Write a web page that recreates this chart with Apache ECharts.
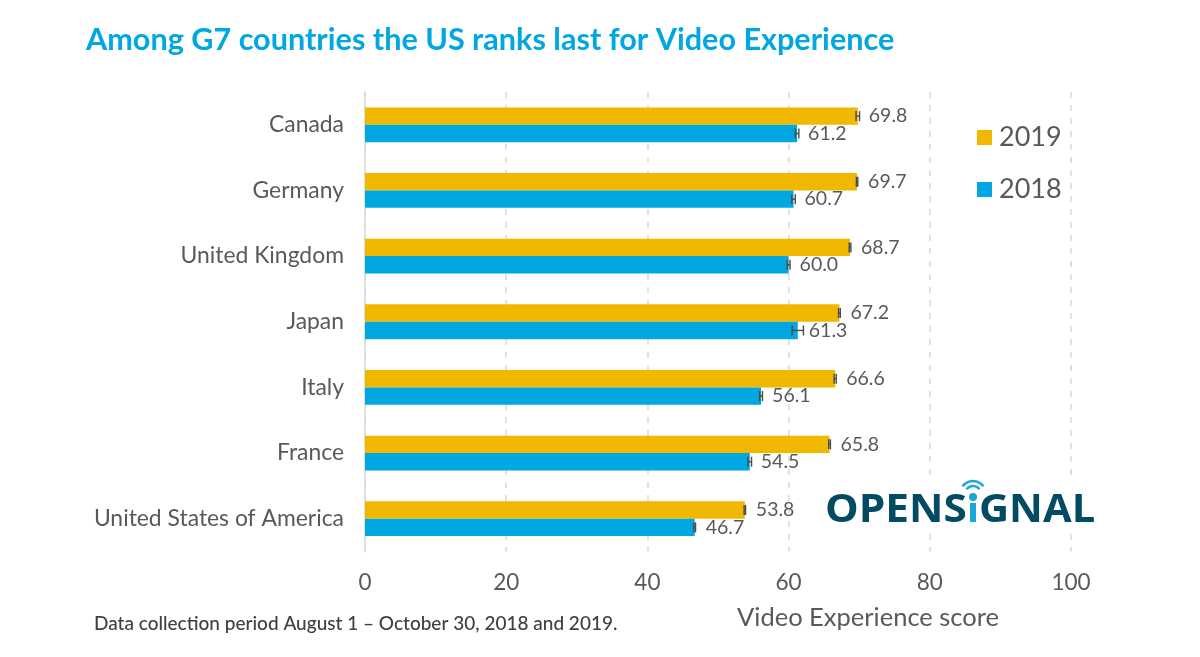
<!DOCTYPE html>
<html><head><meta charset="utf-8">
<style>html,body{margin:0;padding:0;background:#fff}#c{width:1200px;height:657px}</style>
<script src="https://cdn.jsdelivr.net/npm/echarts@6/dist/echarts.min.js"></script>
</head><body><div id="c"></div>
<script>
const categories = ['Canada','Germany','United Kingdom','Japan','Italy','France','United States of America'];
const values2019 = [69.8,69.7,68.7,67.2,66.6,65.8,53.8];
const values2018 = [61.2,60.7,60.0,61.3,56.1,54.5,46.7];
const err2019 = [0.25,0.1,0.12,0.12,0.15,0.12,0.1];
const err2018 = [0.25,0.25,0.2,0.8,0.2,0.25,0.12];
const xTicks = [0,20,40,60,80,100];
const GREY = '#595959', GOLD = '#f0b800', BLUE = '#00a7e1';
const FONT = 'Lato';

const barH = 17.4;
function errorSeries(name, errs, vals, dir){
  return {
    type:'custom', name:name+' error', z:5, silent:true,
    data: vals.map((v,i)=>[v,i,errs[i]]),
    encode:{x:0,y:1},
    renderItem(params, api){
      const v=api.value(0), i=api.value(1), e=api.value(2);
      const a=api.coord([v-e,i]), b=api.coord([v+e,i]);
      const y=a[1]+dir*barH/2, cap=5;
      const st={stroke:'#4a4a4a',lineWidth:1.4,fill:null};
      return {type:'group',children:[
        {type:'line',shape:{x1:a[0],y1:y,x2:b[0],y2:y},style:st},
        {type:'line',shape:{x1:a[0],y1:y-cap,x2:a[0],y2:y+cap},style:st},
        {type:'line',shape:{x1:b[0],y1:y-cap,x2:b[0],y2:y+cap},style:st}
      ]};
    }
  };
}
function barSeries(name, vals, color){
  return {type:'bar',name,data:vals,barWidth:barH,barGap:'0%',
    itemStyle:{color},
    label:{show:true,position:'right',distance:11,color:GREY,fontFamily:FONT,fontSize:19.5,
      formatter:p=>p.value.toFixed(1)}};
}
const chart = echarts.init(document.getElementById('c'),null,{renderer:'canvas'});
chart.setOption({
  animation:false,
  backgroundColor:'#fff',
  textStyle:{fontFamily:FONT},
  title:{text:'Among G7 countries the US ranks last for Video Experience',left:81,top:20,
    textStyle:{fontFamily:FONT,fontWeight:'bold',fontSize:30.6,color:BLUE}},
  grid:{left:365,width:706,top:92,height:459.5,containLabel:false},
  legend:{data:['2019','2018'],orient:'vertical',left:972,top:119,icon:'rect',itemWidth:15,itemHeight:15,itemGap:25,
    textStyle:{fontFamily:FONT,fontSize:27,color:GREY,padding:[0,0,0,2]}},
  xAxis:{type:'value',min:xTicks[0],max:xTicks[xTicks.length-1],interval:20,
    axisLine:{show:false},axisTick:{show:false},
    axisLabel:{color:GREY,fontFamily:FONT,fontSize:22.5,margin:20},
    splitLine:{show:true,lineStyle:{color:'#d9d9d9',type:[6,7],width:1.5}},
    name:'Video Experience score',nameLocation:'middle',nameGap:53,
    nameTextStyle:{color:GREY,fontFamily:FONT,fontSize:25.5,padding:[0,0,0,300]}},
  yAxis:{type:'category',data:categories,inverse:true,
    axisLine:{show:true,lineStyle:{color:'#d9d9d9',width:1.5}},axisTick:{show:false},
    axisLabel:{color:GREY,fontFamily:FONT,fontSize:22.9,margin:21}},
  series:[
    barSeries('2019',values2019,GOLD),
    barSeries('2018',values2018,BLUE),
    errorSeries('2019',err2019,values2019,-1),
    errorSeries('2018',err2018,values2018,1)
  ],
  graphic:[
    {type:'text',left:94,top:614,style:{text:'Data collection period August 1 – October 30, 2018 and 2019.',fill:'#404040',font:'500 19px Lato'}},
    {type:'rect',z:10,shape:{x:818,y:477,width:282,height:50},style:{fill:'#fff'}},
    {type:'text',z:11,x:825,y:491,scaleX:1.06,style:{text:'OPENS',fill:'#034a63',font:'bold 40px "Open Sans"'}},
    {type:'rect',z:11,shape:{x:970,y:503,width:6,height:19},style:{fill:'#1ba6d8'}},
    {type:'circle',z:11,shape:{cx:973,cy:497,r:4},style:{fill:'#1ba6d8'}},
    {type:'arc',z:11,shape:{cx:973,cy:494,r:8,startAngle:-Math.PI*0.8,endAngle:-Math.PI*0.2},style:{stroke:'#1ba6d8',lineWidth:2.5,fill:null}},
    {type:'arc',z:11,shape:{cx:973,cy:494,r:13,startAngle:-Math.PI*0.8,endAngle:-Math.PI*0.2},style:{stroke:'#1ba6d8',lineWidth:2.5,fill:null}},
    {type:'text',z:11,x:979,y:491,scaleX:1.04,style:{text:'GNAL',fill:'#034a63',font:'bold 40px "Open Sans"'}}
  ]
});
</script></body></html>
